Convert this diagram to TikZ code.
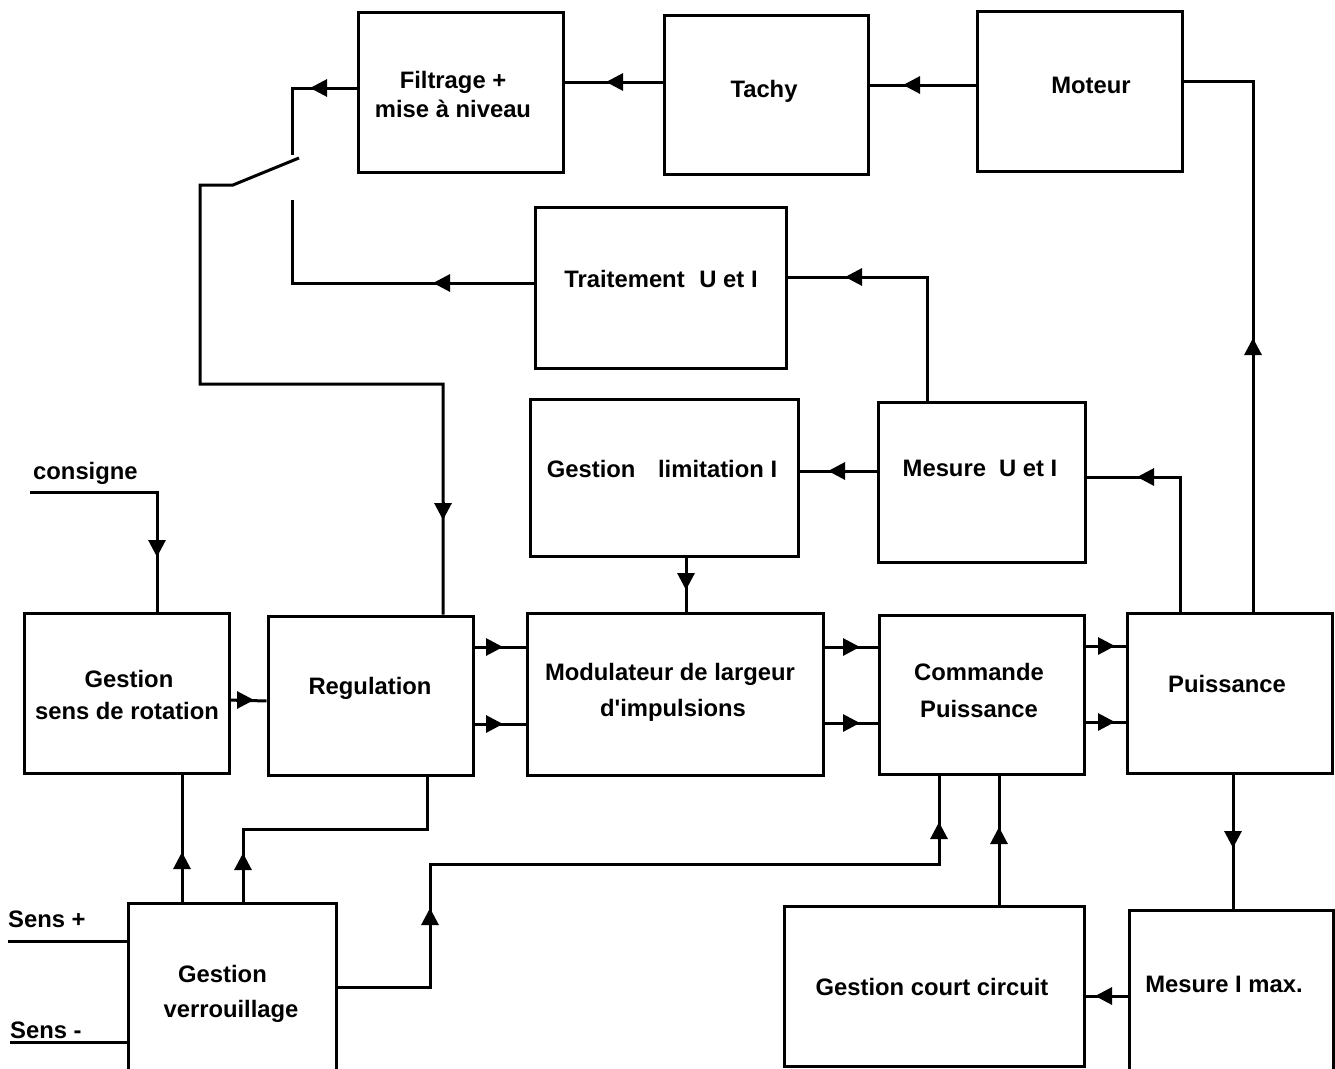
\documentclass[tikz,border=0pt]{standalone}
\usepackage{fontspec}
\setmainfont{Liberation Sans}
\usetikzlibrary{arrows.meta}
\begin{document}
\begin{tikzpicture}[x=1pt,y=-1pt,
  box/.style={draw, line width=3pt, inner sep=0pt},
  lbl/.style={anchor=base, font=\fontsize{23.8pt}{28pt}\selectfont\bfseries, inner sep=0pt},
  lbll/.style={lbl, anchor=base west},
  wire/.style={line width=3pt},
  ah/.style={line width=3pt, -{Triangle[length=17pt,width=17pt]}}]
\useasboundingbox (0,0) rectangle (1335,1068);
\fill[white] (0,0) rectangle (1335,1068);
\clip (0,0) rectangle (1335,1068);

% boxes
\node[box, minimum width=205pt, minimum height=160pt] (fil) at (460.5,92) {};
\node[box, minimum width=204pt, minimum height=159pt] (tachy) at (766,94.5) {};
\node[box, minimum width=205pt, minimum height=160pt] (mot) at (1079.5,91) {};
\node[box, minimum width=251pt, minimum height=161pt] (trait) at (660.5,287.5) {};
\node[box, minimum width=268pt, minimum height=157pt] (glim) at (664,477.5) {};
\node[box, minimum width=207pt, minimum height=160pt] (mes) at (981.5,482) {};
\node[box, minimum width=205pt, minimum height=160pt] (gsens) at (126.5,693) {};
\node[box, minimum width=205pt, minimum height=159pt] (reg) at (370.5,695.5) {};
\node[box, minimum width=296pt, minimum height=162pt] (mod) at (675,694) {};
\node[box, minimum width=205pt, minimum height=159pt] (cmd) at (981.5,694.5) {};
\node[box, minimum width=205pt, minimum height=160pt] (pui) at (1229.5,693) {};
\node[box, minimum width=208pt, minimum height=197pt] (verr) at (232,1001.5) {};
\node[box, minimum width=300pt, minimum height=160pt] (gcc) at (934,986) {};
\node[box, minimum width=204pt, minimum height=190pt] (mimax) at (1231,1005) {};

% texts
\node[lbl] (tfil1) at (453,88) {Filtrage +};
\node[lbl] (tfil2) at (453,117) {mise à niveau};
\node[lbl] (ttachy) at (764,97) {Tachy};
\node[lbl] (tmot) at (1091,93) {Moteur};
\node[lbl] (ttrait) at (661,287) {Traitement\hspace{0.62em}U et I};
\node[lbl] (tglim) at (662,477) {Gestion\hspace{0.95em}limitation I};
\node[lbl] (tmes) at (980,476) {Mesure\hspace{0.55em}U et I};
\node[lbll] (tcons) at (33,479) {consigne};
\node[lbl] (tgs1) at (129,687) {Gestion};
\node[lbl] (tgs2) at (127,719) {sens de rotation};
\node[lbl] (treg) at (370,694) {Regulation};
\node[lbl] (tmod1) at (670,680) {Modulateur de largeur};
\node[lbl] (tmod2) at (673,716) {d\textquotesingle impulsions};
\node[lbl] (tcmd1) at (979,680) {Commande};
\node[lbl] (tcmd2) at (979,717) {Puissance};
\node[lbl] (tpui) at (1227,692) {Puissance};
\node[lbl] (tver1) at (222.5,982) {Gestion};
\node[lbl] (tver2) at (231,1017) {verrouillage};
\node[lbll] (tsp) at (8,927) {Sens +};
\node[lbll] (tsm) at (10,1038) {Sens -};
\node[lbl] (tgcc) at (932,995) {Gestion court circuit};
\node[lbl] (tmim) at (1224,992) {Mesure I max.};

% switch points
\coordinate (swA) at (292,155);
\coordinate (swB) at (292,200);
\coordinate (blL) at (233,185);
\coordinate (blR) at (299,158);
\coordinate (consIn) at (30,492);
\coordinate (spIn) at (8,941);
\coordinate (smIn) at (10,1042);

% top chain
\draw[wire] (tachy.west |- 0,82) -- (fil.east |- 0,82);
\draw[ah] (624,82) -- (606,82);
\draw[wire] (mot.west |- 0,85) -- (tachy.east |- 0,85);
\draw[ah] (921,85) -- (903,85);
\draw[wire] (mot.east |- 0,81) -- (1253,81) -- (pui.north -| 1253,0);
\draw[ah] (1253,356) -- (1253,338);

% switch and feedback
\draw[wire] (fil.west |- 0,88) -- (292,88) -- (swA);
\draw[ah] (328,88) -- (310,88);
\draw[wire] (blR) -- (blL) -- (200,185) -- (200,384) -- (443,384) -- (reg.north -| 443,0);
\draw[ah] (443,502) -- (443,520);
\draw[wire] (trait.west |- 0,283) -- (292,283) -- (swB);
\draw[ah] (451,283) -- (433,283);

% measurements
\draw[wire] (mes.north -| 927,0) -- (927,277) -- (trait.east |- 0,277);
\draw[ah] (863,277) -- (845,277);
\draw[wire] (mes.west |- 0,471) -- (glim.east |- 0,471);
\draw[ah] (846,471) -- (828,471);
\draw[wire] (glim.south -| 686,0) -- (mod.north -| 686,0);
\draw[ah] (686,572) -- (686,590);
\draw[wire] (pui.north -| 1180,0) -- (1180,477) -- (mes.east |- 0,477);
\draw[ah] (1155,477) -- (1137,477);

% consigne
\draw[wire] (consIn) -- (157,492) -- (gsens.north -| 157,0);
\draw[ah] (157,539) -- (157,557);

% main chain
\draw[wire] (gsens.east |- 0,700) -- (reg.west |- 0,701);
\draw[ah] (236,700) -- (254,700);
\draw[wire] (reg.east |- 0,647) -- (mod.west |- 0,647);
\draw[wire] (reg.east |- 0,724) -- (mod.west |- 0,724);
\draw[ah] (485,647) -- (503,647);
\draw[ah] (485,724) -- (503,724);
\draw[wire] (mod.east |- 0,647) -- (cmd.west |- 0,647);
\draw[wire] (mod.east |- 0,723) -- (cmd.west |- 0,723);
\draw[ah] (842,647) -- (860,647);
\draw[ah] (842,723) -- (860,723);
\draw[wire] (cmd.east |- 0,646) -- (pui.west |- 0,646);
\draw[wire] (cmd.east |- 0,722) -- (pui.west |- 0,722);
\draw[ah] (1097,646) -- (1115,646);
\draw[ah] (1097,722) -- (1115,722);

% lower part
\draw[wire] (pui.south -| 1233,0) -- (mimax.north -| 1233,0);
\draw[ah] (1233,830) -- (1233,848);
\draw[wire] (mimax.west |- 0,996) -- (gcc.east |- 0,996);
\draw[ah] (1113,996) -- (1095,996);
\draw[wire] (gcc.north -| 999,0) -- (cmd.south -| 999,0);
\draw[ah] (999,845) -- (999,827);
\draw[wire] (verr.east |- 0,987) -- (430,987) -- (430,864) -- (939,864) -- (cmd.south -| 939,0);
\draw[ah] (430,926) -- (430,908);
\draw[ah] (939,840) -- (939,822);
\draw[wire] (verr.north -| 182,0) -- (gsens.south -| 182,0);
\draw[ah] (182,870) -- (182,852);
\draw[wire] (verr.north -| 243,0) -- (243,829) -- (427,829) -- (reg.south -| 427,0);
\draw[ah] (243,871) -- (243,853);

% inputs
\draw[wire] (spIn) -- (verr.west |- 0,941);
\draw[wire] (smIn) -- (verr.west |- 0,1042);
\end{tikzpicture}
\end{document}
